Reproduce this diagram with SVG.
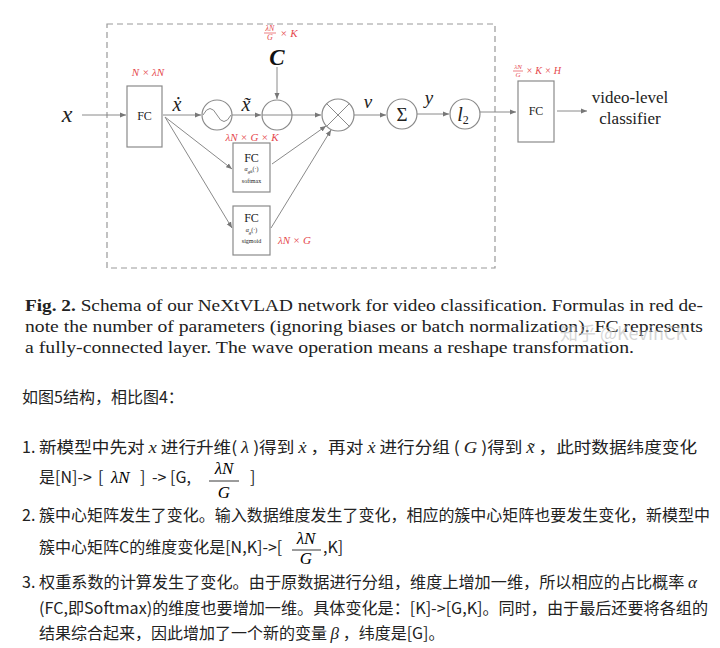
<svg xmlns="http://www.w3.org/2000/svg" width="720" height="648" viewBox="0 0 720 648">
<style>
.ln{stroke:#8a8a8a;stroke-width:1;fill:none}
.bx{stroke:#8a8a8a;stroke-width:1.2;fill:#fff}
.ci{stroke:#8a8a8a;stroke-width:1.2;fill:#fff}
.red{fill:#e5484d;font-family:"Liberation Serif",serif;font-style:italic}
.m{font-family:"Liberation Serif",serif;font-style:italic;fill:#222}
.rm{font-family:"Liberation Serif",serif;fill:#222}
.cap{font-family:"Liberation Serif",serif;font-size:17.5px;fill:#222}
.zh{font-family:"Noto Sans CJK SC","Noto Sans",sans-serif;font-size:16px;fill:#222}
.mi{font-family:"Liberation Serif",serif;font-style:italic;font-size:17px}
</style>
<defs>
<marker id="ah" markerWidth="7" markerHeight="6" refX="6" refY="3" orient="auto" markerUnits="userSpaceOnUse">
<path d="M0,0.5 L6,3 L0,5.5 Z" fill="#777"/>
</marker>
</defs>
<rect x="107" y="24" width="388" height="244" fill="none" stroke="#999" stroke-width="1.2" stroke-dasharray="6,4"/>
<g id="connectors">
<line class="ln" x1="82" y1="115" x2="126" y2="115" marker-end="url(#ah)"/>
<line class="ln" x1="163" y1="115" x2="201" y2="115" marker-end="url(#ah)"/>
<line class="ln" x1="232" y1="115" x2="261" y2="115" marker-end="url(#ah)"/>
<line class="ln" x1="277" y1="67" x2="277" y2="99" marker-end="url(#ah)"/>
<line class="ln" x1="262" y1="115" x2="321" y2="115" marker-end="url(#ah)"/>
<line class="ln" x1="354" y1="115" x2="386" y2="115" marker-end="url(#ah)"/>
<line class="ln" x1="417" y1="114" x2="449" y2="114" marker-end="url(#ah)"/>
<line class="ln" x1="480" y1="112" x2="516" y2="112" marker-end="url(#ah)"/>
<line class="ln" x1="557" y1="111" x2="587" y2="111" marker-end="url(#ah)"/>
<line class="ln" x1="165" y1="117" x2="232" y2="169" marker-end="url(#ah)"/>
<line class="ln" x1="165" y1="117" x2="232" y2="228" marker-end="url(#ah)"/>
<line class="ln" x1="272" y1="164" x2="326" y2="126" marker-end="url(#ah)"/>
<line class="ln" x1="271" y1="228" x2="331" y2="130" marker-end="url(#ah)"/>
</g>
<g id="input"><text class="m" x="67" y="122" font-size="24" text-anchor="middle">x</text></g>
<g id="fc1">
<rect class="bx" x="127" y="86" width="35" height="61"/>
<text class="rm" x="144.5" y="120" font-size="12" text-anchor="middle">FC</text>
<text class="red" x="148" y="76" font-size="11" text-anchor="middle">N × λN</text>
</g>
<g id="xdot"><text class="m" x="177" y="111" font-size="20" text-anchor="middle">ẋ</text></g>
<g id="wave">
<circle class="ci" cx="217" cy="115" r="15"/>
<path class="ln" d="M203,115 Q210,102 217,115 T231,115" stroke-width="1.2"/>
</g>
<g id="xtilde"><text class="m" x="246" y="111" font-size="20" text-anchor="middle">x̃</text></g>
<g id="centers">
<text class="red" x="270" y="31" font-size="8" text-anchor="middle">λN</text>
<line x1="264" y1="33" x2="276" y2="33" stroke="#e5484d" stroke-width="0.7"/>
<text class="red" x="270" y="40" font-size="8" text-anchor="middle">G</text>
<text class="red" x="280" y="37" font-size="11">× K</text>
<text x="277" y="65" font-family="Liberation Serif,serif" font-style="italic" font-weight="bold" font-size="23" fill="#111" text-anchor="middle">C</text>
</g>
<g id="minus"><circle class="ci" cx="277" cy="115" r="15"/><line class="ln" x1="262" y1="115" x2="292" y2="115"/></g>
<g id="otimes">
<circle class="ci" cx="338" cy="115" r="16"/>
<line class="ln" x1="326.7" y1="103.7" x2="349.3" y2="126.3"/>
<line class="ln" x1="349.3" y1="103.7" x2="326.7" y2="126.3"/>
</g>
<g id="vlabel"><text class="m" x="368" y="108" font-size="19" text-anchor="middle">v</text></g>
<g id="sum"><circle class="ci" cx="402" cy="114" r="15"/><text class="rm" x="402" y="121" font-size="19" text-anchor="middle">Σ</text></g>
<g id="ylabel"><text class="m" x="429" y="104" font-size="19" text-anchor="middle">y</text></g>
<g id="l2"><circle class="ci" cx="465" cy="114" r="15"/><text class="m" x="463" y="121" font-size="20" text-anchor="middle">l<tspan font-size="12" dy="3" font-style="normal">2</tspan></text></g>
<g id="softmax">
<text class="red" x="252" y="141" font-size="11" text-anchor="middle">λN × G × K</text>
<rect class="bx" x="233" y="143" width="37" height="49"/>
<text class="rm" x="251.5" y="162" font-size="12" text-anchor="middle">FC</text>
<text class="m" x="251.5" y="171" font-size="6" text-anchor="middle">α<tspan font-size="5" dy="1.5">gk</tspan><tspan dy="-1.5" font-style="normal">(·)</tspan></text>
<text class="rm" x="251.5" y="183" font-size="6" text-anchor="middle">softmax</text>
</g>
<g id="sigmoid">
<rect class="bx" x="233" y="206" width="37" height="49"/>
<text class="rm" x="251.5" y="222" font-size="12" text-anchor="middle">FC</text>
<text class="m" x="251.5" y="232" font-size="6" text-anchor="middle">α<tspan font-size="5" dy="1.5">g</tspan><tspan dy="-1.5" font-style="normal">(·)</tspan></text>
<text class="rm" x="251.5" y="243" font-size="6" text-anchor="middle">sigmoid</text>
<text class="red" x="278" y="244" font-size="11">λN × G</text>
</g>
<g id="fc2">
<text class="red" x="518" y="69" font-size="7" text-anchor="middle">λN</text>
<line x1="513" y1="71" x2="523" y2="71" stroke="#e5484d" stroke-width="0.7"/>
<text class="red" x="518" y="77" font-size="7" text-anchor="middle">G</text>
<text class="red" x="526" y="74" font-size="10">× K × H</text>
<rect class="bx" x="518" y="81" width="36" height="61"/>
<text class="rm" x="536" y="115" font-size="12" text-anchor="middle">FC</text>
</g>
<g id="classifier">
<text class="rm" x="630" y="103" font-size="17" text-anchor="middle">video-level</text>
<text class="rm" x="630" y="124" font-size="17" text-anchor="middle">classifier</text>
</g>
<g id="caption">
<text class="cap" x="25" y="311" textLength="678" lengthAdjust="spacingAndGlyphs"><tspan font-weight="bold">Fig. 2.</tspan> Schema of our NeXtVLAD network for video classification. Formulas in red de-</text>
<text class="cap" x="25" y="332" textLength="678" lengthAdjust="spacingAndGlyphs">note the number of parameters (ignoring biases or batch normalization). FC represents</text>
<text class="cap" x="25" y="353" textLength="609" lengthAdjust="spacingAndGlyphs">a fully-connected layer. The wave operation means a reshape transformation.</text>
<text x="560" y="340" font-family="Noto Sans CJK SC,Noto Sans,sans-serif" font-size="18" fill="#bbb" fill-opacity="0.6">知乎 @KevinCK</text>
</g>
<g id="notes">
<text class="zh" x="22" y="403">如图5结构，相比图4：</text>
<text class="zh" x="22" y="453">1.</text>
<text class="zh" x="39" y="453" textLength="658" lengthAdjust="spacingAndGlyphs">新模型中先对 <tspan class="mi">x</tspan> 进行升维( <tspan class="mi">λ</tspan> )得到 <tspan class="mi">ẋ</tspan> ，再对 <tspan class="mi">ẋ</tspan> 进行分组 ( <tspan class="mi">G</tspan> )得到 <tspan class="mi">x̃</tspan> ，此时数据纬度变化</text>
<text class="zh" x="39" y="483">是[N]-&gt;</text>
<text class="zh" x="98" y="483">[</text>
<text class="mi" x="111" y="483">λN</text>
<text class="zh" x="140" y="483">]</text>
<text class="zh" x="152" y="483">-&gt; [G,</text>
<text class="mi" x="224" y="474" text-anchor="middle">λN</text>
<line x1="209" y1="481" x2="239" y2="481" stroke="#222" stroke-width="0.9"/>
<text class="mi" x="224" y="498" text-anchor="middle">G</text>
<text class="zh" x="250" y="483">]</text>
<text class="zh" x="22" y="521">2.</text>
<text class="zh" x="39" y="521" textLength="671" lengthAdjust="spacingAndGlyphs">簇中心矩阵发生了变化。输入数据维度发生了变化，相应的簇中心矩阵也要发生变化，新模型中</text>
<text class="zh" x="39" y="553">簇中心矩阵C的维度变化是[N,K]-&gt;[</text>
<text class="mi" x="306" y="544" text-anchor="middle">λN</text>
<line x1="292" y1="550" x2="321" y2="550" stroke="#222" stroke-width="0.9"/>
<text class="mi" x="306" y="564" font-size="16" text-anchor="middle">G</text>
<text class="zh" x="323" y="553">,K]</text>
<text class="zh" x="22" y="588">3.</text>
<text class="zh" x="39" y="588" textLength="658" lengthAdjust="spacingAndGlyphs">权重系数的计算发生了变化。由于原数据进行分组，维度上增加一维，所以相应的占比概率 <tspan class="mi">α</tspan></text>
<text class="zh" x="39" y="614" textLength="669" lengthAdjust="spacingAndGlyphs">(FC,即Softmax)的维度也要增加一维。具体变化是：[K]-&gt;[G,K]。同时，由于最后还要将各组的</text>
<text class="zh" x="39" y="639">结果综合起来，因此增加了一个新的变量 <tspan class="mi">β</tspan> ，纬度是[G]。</text>
</g>
</svg>
